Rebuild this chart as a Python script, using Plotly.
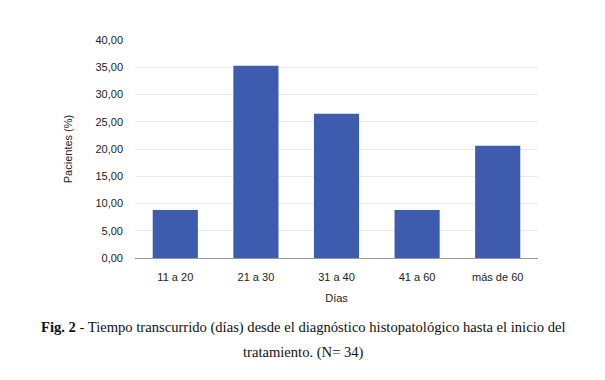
import plotly.graph_objects as go

categories = ["11 a 20", "21 a 30", "31 a 40", "41 a 60", "más de 60"]
values = [8.82, 35.29, 26.47, 8.82, 20.59]
tick_vals = [0, 5, 10, 15, 20, 25, 30, 35, 40]
tick_text = ["0,00", "5,00", "10,00", "15,00", "20,00", "25,00", "30,00", "35,00", "40,00"]

L, R, T, B = 127, 75, 32, 130
W, H = 605, 380

fig = go.Figure(go.Bar(x=categories, y=values, marker=dict(color="#3f5bad", line=dict(width=0)),
                       hoverinfo="skip"))

fig.update_layout(
    width=W, height=H,
    margin=dict(l=L, r=R, t=T, b=B),
    paper_bgcolor="white", plot_bgcolor="white",
    bargap=0.44,
    showlegend=False,
    font=dict(family="Arial, Liberation Sans, sans-serif", size=11, color="#222222"),
    xaxis=dict(showgrid=False, showline=True, linecolor="#999999", linewidth=1,
               ticks="", tickfont=dict(size=11, color="#222222"), ticklabelstandoff=9,
               title=dict(text="Días", font=dict(size=11, color="#222222"), standoff=12)),
    yaxis=dict(range=[0, 40], tickvals=tick_vals, ticktext=tick_text,
               showgrid=True, gridcolor="#ebebeb", gridwidth=1, zeroline=False,
               ticks="", tickfont=dict(size=11, color="#222222"), ticklabelstandoff=11,
               title=dict(text="Pacientes (%)", font=dict(size=11, color="#222222"), standoff=20)),
)

ph = H - T - B
pw = W - L - R
def ypix(py):
    return (H - B - py) / ph
def xpix(px):
    return (px - L) / pw

cap_font = dict(family="Liberation Serif, Times New Roman, serif", size=14.6, color="#111111")
fig.add_annotation(text="<b>Fig. 2</b> - Tiempo transcurrido (días) desde el diagnóstico histopatológico hasta el inicio del",
                   x=xpix(295), y=ypix(319), xref="paper", yref="paper", showarrow=False,
                   xanchor="center", yanchor="middle", font=cap_font)
fig.add_annotation(text="tratamiento. (N= 34)",
                   x=xpix(295), y=ypix(344), xref="paper", yref="paper", showarrow=False,
                   xanchor="center", yanchor="middle", font=cap_font)

fig.write_html("out.html")
